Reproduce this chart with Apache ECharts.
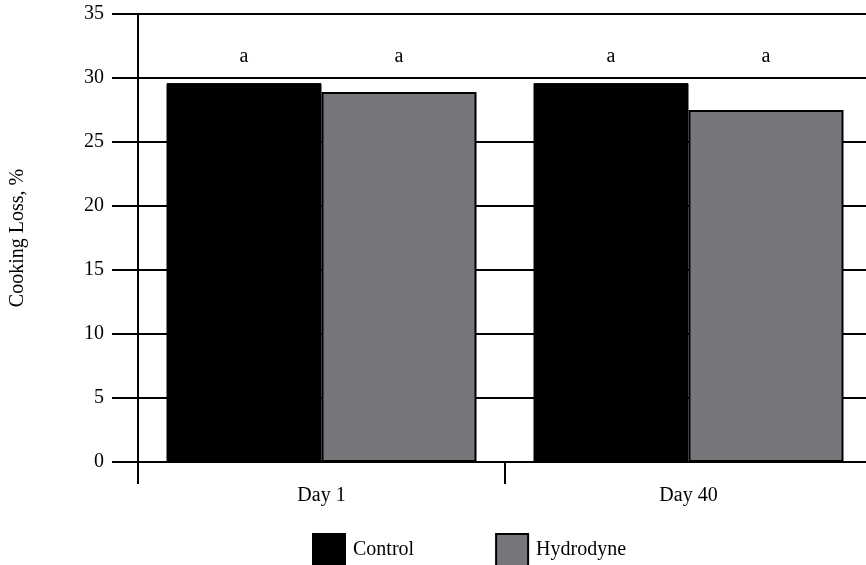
<!DOCTYPE html>
<html>
<head>
<meta charset="utf-8">
<script src="https://cdn.jsdelivr.net/npm/echarts@6/dist/echarts.min.js"></script>
<style>
  html, body { margin: 0; padding: 0; background: #ffffff; overflow: hidden; }
  #chart { width: 872px; height: 565px; }
</style>
</head>
<body>
<div id="chart"></div>
<script>
const categories = ['Day 1', 'Day 40'];
const controlValues = [29.6, 29.6];
const hydrodyneValues = [28.9, 27.5];
const controlLetters = ['a', 'a'];
const hydrodyneLetters = ['a', 'a'];
const seriesNames = ['Control', 'Hydrodyne'];
const yAxisName = 'Cooking Loss, %';

const FONT = 'Liberation Serif';
const LETTER_VALUE = 30.9;

const chart = echarts.init(document.getElementById('chart'), null, { renderer: 'canvas' });

const baseLabel = (letters) => ({
  show: true,
  position: 'top',
  distance: 5,
  color: '#000',
  fontFamily: FONT,
  fontSize: 20,
  formatter: (p) => letters[p.dataIndex]
});

const option = {
  backgroundColor: '#ffffff',
  animation: false,
  textStyle: { fontFamily: FONT, color: '#000' },
  grid: { left: 138, right: 0, top: 14, bottom: 103, containLabel: false },
  legend: {
    left: 312,
    top: 533,
    padding: 0,
    itemWidth: 32,
    itemHeight: 32,
    itemGap: 81,
    icon: 'rect',
    data: seriesNames,
    textStyle: { fontFamily: FONT, fontSize: 20, color: '#000', padding: [0, 0, 0, 3] }
  },
  xAxis: {
    type: 'category',
    data: categories,
    boundaryGap: true,
    axisLine: { show: true, lineStyle: { color: '#000', width: 2 } },
    axisTick: { show: true, interval: 0, length: 22, lineStyle: { color: '#000', width: 2 } },
    axisLabel: { color: '#000', fontFamily: FONT, fontSize: 20, margin: 24 },
    splitLine: { show: false }
  },
  yAxis: {
    type: 'value',
    min: 0,
    max: 35,
    interval: 5,
    name: yAxisName,
    nameLocation: 'middle',
    nameGap: 110,
    nameTextStyle: { color: '#000', fontFamily: FONT, fontSize: 20 },
    axisLine: { show: true, lineStyle: { color: '#000', width: 2 } },
    axisTick: { show: true, length: 26, lineStyle: { color: '#000', width: 2 } },
    axisLabel: { color: '#000', fontFamily: FONT, fontSize: 20, margin: 34 },
    splitLine: { show: true, lineStyle: { color: '#000', width: 2 } }
  },
  series: [
    {
      name: seriesNames[0],
      type: 'bar',
      data: controlValues,
      barWidth: 155,
      barGap: '0%',
      itemStyle: { color: '#000000', borderColor: '#000000', borderWidth: 1 },
      label: baseLabel(controlLetters)
    },
    {
      name: seriesNames[1],
      type: 'bar',
      data: hydrodyneValues,
      barWidth: 155,
      barGap: '0%',
      itemStyle: { color: '#76777b', borderColor: '#000000', borderWidth: 2 },
      label: baseLabel(hydrodyneLetters)
    }
  ]
};

chart.setOption(option);

function letterDistance(v) {
  const top = chart.convertToPixel({ yAxisIndex: 0 }, v);
  const lvl = chart.convertToPixel({ yAxisIndex: 0 }, LETTER_VALUE);
  return Math.max(0, top - lvl);
}

chart.setOption({
  series: [
    { data: controlValues.map(v => ({ value: v, label: { distance: letterDistance(v) } })) },
    { data: hydrodyneValues.map(v => ({ value: v, label: { distance: letterDistance(v) } })) }
  ]
});
</script>
</body>
</html>
